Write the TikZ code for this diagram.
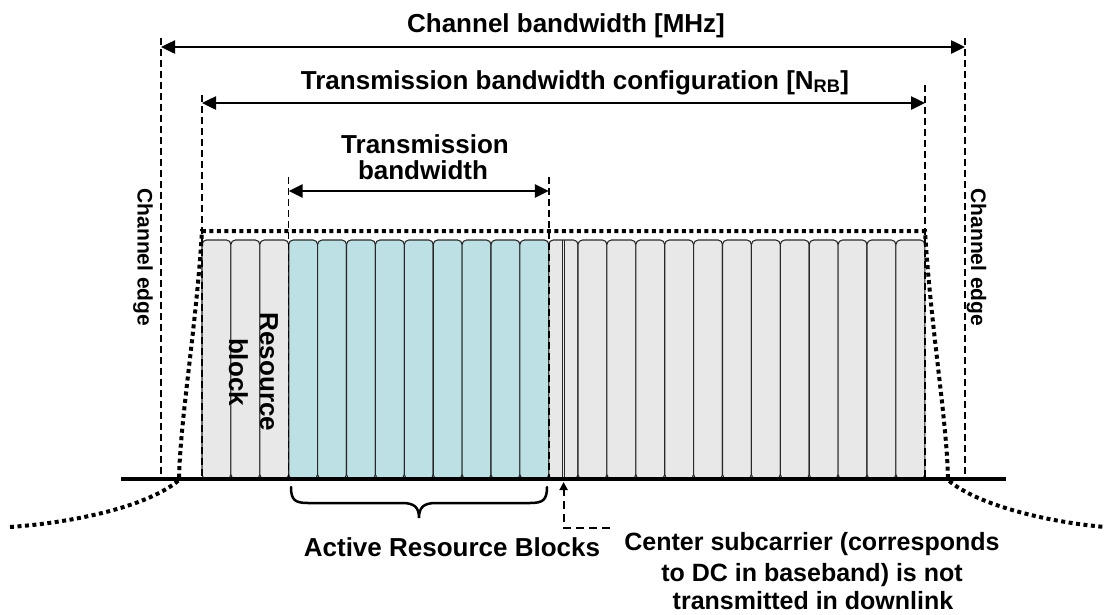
\documentclass[tikz,border=0pt]{standalone}
\usepackage{fontspec}
\setmainfont{Liberation Sans}
\usetikzlibrary{arrows.meta}
\definecolor{rbgray}{RGB}{232,232,232}
\definecolor{rbcyan}{RGB}{188,224,227}
\definecolor{rbline}{RGB}{40,40,40}
\begin{document}
\begin{tikzpicture}[x=1pt,y=-1pt,
  rb/.style={draw=rbline, line width=1.1pt, rounded corners=4.5pt},
  dashv/.style={line width=1.5pt, dash pattern=on 7pt off 4pt},
  maskline/.style={line width=4pt, dash pattern=on 4pt off 3.5pt},
  dimarrow/.style={line width=2.5pt, {Triangle[length=14pt,width=13pt]}-{Triangle[length=14pt,width=13pt]}},
  lbl/.style={font=\fontsize{26}{30}\selectfont\bfseries, inner sep=0pt, anchor=base},
  edgelbl/.style={font=\fontsize{21}{25}\selectfont\bfseries, inner sep=0pt, anchor=base, rotate=-90},
]
\useasboundingbox (0,0) rectangle (1112,614);

% resource blocks
\foreach \i in {0,1,2}
  \draw[rb, fill=rbgray] ({202+\i*28.9},240) rectangle ({202+(\i+1)*28.9},479);
\foreach \i in {0,...,8}
  \draw[rb, fill=rbcyan] ({288.7+\i*28.9},240) rectangle ({288.7+(\i+1)*28.9},479);
\draw[rb, fill=rbgray] (548.8,240) rectangle (578,479);
\draw[draw=rbline, line width=1.1pt] (562.5,240) -- (562.5,479);
\draw[draw=rbline, line width=1.1pt] (564.7,240) -- (564.7,479);
\foreach \i in {0,...,11}
  \draw[rb, fill=rbgray] ({578+\i*28.9},240) rectangle ({578+(\i+1)*28.9},479);

% coordinates for edges
\coordinate (chLt) at (161,38);   \coordinate (chLb) at (161,479);
\coordinate (chRt) at (965,38);   \coordinate (chRb) at (965,479);
\coordinate (cfLt) at (202,95);   \coordinate (cfLb) at (202,479);
\coordinate (cfRt) at (925,85);   \coordinate (cfRb) at (925,479);
\coordinate (tbLt) at (288.7,177); \coordinate (tbLb) at (288.7,479);
\coordinate (tbRt) at (548.8,177); \coordinate (tbRb) at (548.8,479);

\draw[dashv] (chLt) -- (chLb);
\draw[dashv] (chRt) -- (chRb);
\draw[dashv] (cfLt) -- (cfLb);
\draw[dashv] (cfRt) -- (cfRb);
\draw[dashv] (tbLt) -- (tbLb);
\draw[dashv] (tbRt) -- (tbRb);

% spectrum mask
\coordinate (mL0) at (10,527);  \coordinate (mL1) at (179,480); \coordinate (mL2) at (202,231);
\coordinate (mR2) at (925,231); \coordinate (mR1) at (948,480); \coordinate (mR0) at (1105,527);
\draw[maskline] (mL0) .. controls (80,522) and (150,505) .. (mL1)
  .. controls (180,420) and (196,330) .. (mL2) -- (mR2)
  .. controls (931,330) and (947,420) .. (mR1)
  .. controls (977,505) and (1047,522) .. (mR0);

% baseline
\coordinate (bl0) at (121,479); \coordinate (bl1) at (1006,479);
\draw[line width=4pt] (bl0) -- (bl1);

% dimension arrows
\coordinate (a1L) at (161,47);  \coordinate (a1R) at (965,47);
\coordinate (a2L) at (202,103); \coordinate (a2R) at (925,103);
\coordinate (a3L) at (288.7,191); \coordinate (a3R) at (548.8,191);
\draw[dimarrow] (a1L) -- (a1R);
\draw[dimarrow] (a2L) -- (a2R);
\draw[dimarrow] (a3L) -- (a3R);

% labels
\node[lbl] (chbw) at (566,32.5) {Channel bandwidth [MHz]};
\node[lbl] (tbcfg) at (575,89) {Transmission bandwidth configuration [N\textsubscript{RB}]};
\node[lbl, inner ysep=0pt, text depth=0pt] (tbw1) at (425,153) {Transmission};
\node[lbl, inner ysep=0pt, text height=17pt] (tbw2) at (423,179) {bandwidth};
\node[edgelbl] (edgeL) at (137.5,257.5) {Channel edge};
\node[edgelbl] (edgeR) at (971,257.5) {Channel edge};
\node[lbl, rotate=-90] (rb1) at (260,372) {Resource};
\node[lbl, rotate=-90] (rb2) at (229,372) {block};

% brace
\coordinate (brL) at (291,487); \coordinate (brT) at (419,518); \coordinate (brR) at (547,487);
\draw[line width=2.5pt, line cap=round]
  (brL) .. controls (291,500) and (295,503) .. (308,503) -- (402,503)
  .. controls (414,503) and (419,507) .. (brT)
  .. controls (419,507) and (424,503) .. (436,503) -- (530,503)
  .. controls (543,503) and (547,500) .. (brR);
\node[lbl] (arb) at (452,556) {Active Resource Blocks};

% center subcarrier pointer
\coordinate (cs1) at (610,528); \coordinate (cs2) at (563.6,528); \coordinate (cs3) at (563.6,482);
\draw[line width=2pt, dash pattern=on 8pt off 5pt, -{Triangle[length=8pt,width=8pt]}] (cs1) -- (cs2) -- (cs3);
\node[lbl, font=\fontsize{25}{30}\selectfont\bfseries] (cs1t) at (812,550) {Center subcarrier (corresponds};
\node[lbl, font=\fontsize{25}{30}\selectfont\bfseries] (cs2t) at (812,581) {to DC in baseband) is not};
\node[lbl, font=\fontsize{25}{30}\selectfont\bfseries] (cs3t) at (813,609) {transmitted in downlink};
\end{tikzpicture}
\end{document}
